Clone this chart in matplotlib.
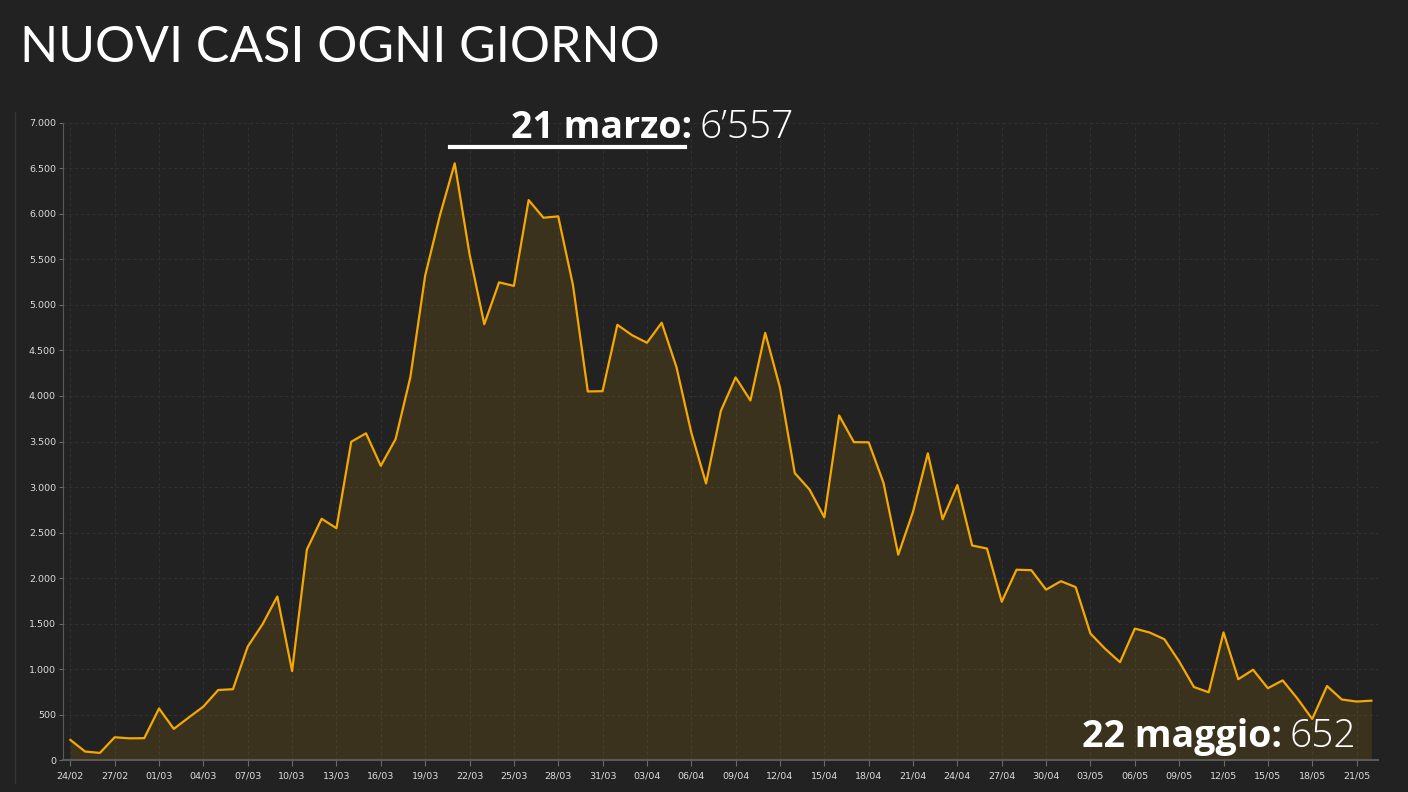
import matplotlib.pyplot as plt
import pandas as pd
from matplotlib.lines import Line2D
from matplotlib.ticker import FuncFormatter, MultipleLocator

# Nuovi casi giornalieri (Italia), 24/02 - 22/05
dates = pd.date_range('2020-02-24', '2020-05-22', freq='D')
new_cases = [
    221, 93, 78, 250, 238, 240,
    566, 342, 466, 587, 769, 778, 1247, 1492, 1797, 977, 2313, 2651, 2547,
    3497, 3590, 3233, 3526, 4207, 5322, 5986, 6557, 5560, 4789, 5249, 5210,
    6153, 5959, 5974, 5217, 4050, 4053,
    4782, 4668, 4585, 4805, 4316, 3599, 3039, 3836, 4204, 3951, 4694, 4092,
    3153, 2972, 2667, 3786, 3493, 3491, 3047, 2256, 2729, 3370, 2646, 3021,
    2357, 2324, 1739, 2091, 2086, 1872,
    1965, 1900, 1389, 1221, 1075, 1444, 1401, 1327, 1083, 802, 744, 1402,
    888, 992, 789, 875, 675, 451, 813, 665, 642, 652,
]
tick_labels = [d.strftime('%d/%m') for d in dates]

bg = '#222222'
orange = '#f5a800'

fig = plt.figure(figsize=(14.08, 7.92), dpi=100, facecolor=bg)
ax = fig.add_axes([0.0447, 0.0404, 0.934, 0.8043])
ax.set_facecolor(bg)

x = list(range(len(new_cases)))
ax.fill_between(x, new_cases, 0, color=orange, alpha=0.12, linewidth=0)
ax.plot(x, new_cases, color=orange, linewidth=1.6)

ax.set_xlim(-0.5, 88.45)
ax.set_ylim(0, 7000)

ax.set_xticks(x[::3])
ax.set_xticklabels(tick_labels[::3])
ax.yaxis.set_major_locator(MultipleLocator(500))
ax.yaxis.set_major_formatter(FuncFormatter(lambda v, p: f'{int(v):,}'.replace(',', '.')))

ax.tick_params(axis='both', colors='#6a6a6a', labelcolor='#dddddd', labelsize=6.8,
               length=4, width=0.8)
ax.tick_params(axis='x', pad=4)
ax.tick_params(axis='y', pad=2, length=3)

ax.grid(True, color='#323232', linestyle=(0, (3, 3)), linewidth=0.7)
ax.set_axisbelow(True)
for side in ['top', 'right']:
    ax.spines[side].set_visible(False)
ax.spines['left'].set_color('#5a5a5a')
ax.spines['bottom'].set_color('#5a5a5a')
ax.spines['bottom'].set_linewidth(1.5)

# Linea verticale sottile a sinistra
fig.add_artist(Line2D([15 / 1408, 15 / 1408], [1 - 112 / 792, 1 - 783 / 792],
                      color='#333333', linewidth=1, transform=fig.transFigure))

# Titolo
fig.text(20 / 1408, 1 - 62 / 792, 'NUOVI CASI OGNI GIORNO', color='white',
         fontsize=36, fontfamily='Lato', fontweight='normal', va='baseline', ha='left')

# Annotazione picco
fig.text(692 / 1408, 1 - 138 / 792, '21 marzo:', color='white', fontsize=27,
         fontfamily='Open Sans', fontweight='bold', ha='right', va='baseline')
fig.text(700 / 1408, 1 - 138 / 792, "6\u2019557", color='white', fontsize=28,
         fontfamily='Open Sans', fontweight='light', ha='left', va='baseline')
fig.add_artist(Line2D([450 / 1408, 685 / 1408], [1 - 147 / 792, 1 - 147 / 792],
                      color='white', linewidth=3, transform=fig.transFigure))

# Annotazione ultimo giorno
fig.text(1282 / 1408, 1 - 747 / 792, '22 maggio:', color='white', fontsize=27,
         fontfamily='Open Sans', fontweight='bold', ha='right', va='baseline')
fig.text(1290 / 1408, 1 - 747 / 792, '652', color='white', fontsize=28,
         fontfamily='Open Sans', fontweight='light', ha='left', va='baseline')

fig.savefig('out.png', dpi=100, facecolor=bg)
